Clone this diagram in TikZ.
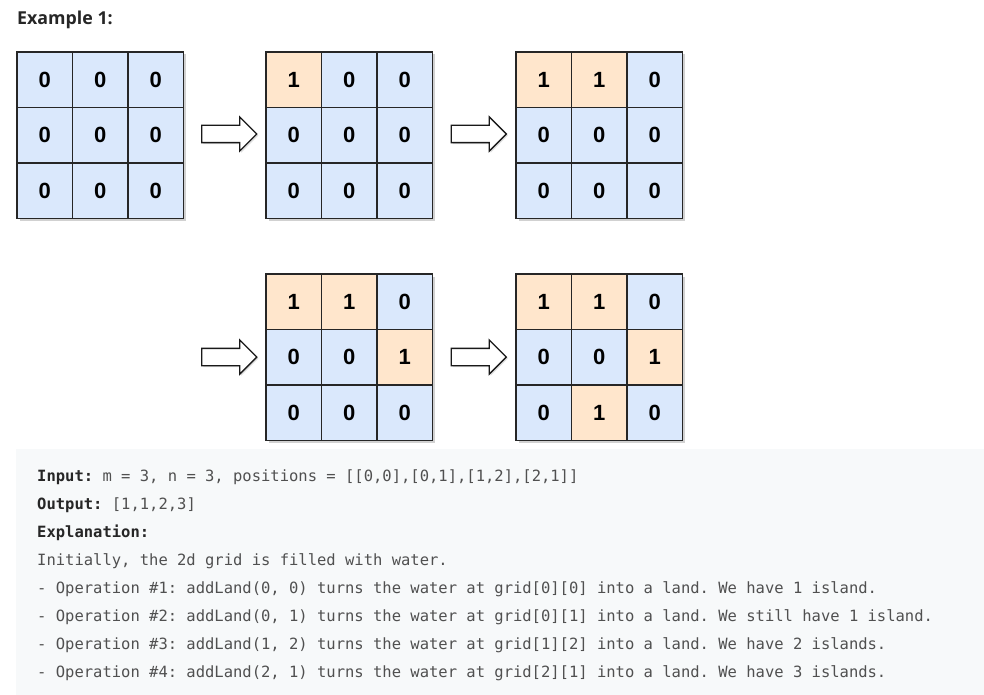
\documentclass[tikz,border=0pt]{standalone}
\usepackage{fontspec}
\setmainfont{Liberation Sans}
\newfontfamily\titlefont{Open Sans}
\newfontfamily\codefont{DejaVu Sans Mono}
\newfontfamily\digitfont{Liberation Sans Bold}
\usetikzlibrary{shapes.arrows,shadows}
\definecolor{water}{HTML}{DAE8FC}
\definecolor{land}{HTML}{FFE6CC}
\definecolor{codebg}{HTML}{F7F9FA}
\definecolor{txtdark}{HTML}{262626}
\definecolor{txtreg}{HTML}{505050}
\tikzset{
  cell/.style={draw=black!85, line width=1.2pt, minimum size=55.5pt, inner sep=0pt, text=black},
  v0/.style={fill=water},
  v1/.style={fill=land},
  gridshadow/.style={fill=black, opacity=0.18},
  blockarrow/.style={single arrow, draw=black!90, fill=white, line width=1.3pt,
    minimum height=55pt, inner sep=0pt, inner ysep=8pt,
    single arrow head extend=8.5pt, single arrow tip angle=90,
    drop shadow={shadow xshift=1.5pt, shadow yshift=-1.5pt, opacity=0.25}},
  codeline/.style={anchor=base west, inner sep=0pt, text=txtreg,
    font=\codefont\fontsize{15.5}{15.5}\selectfont},
}
\newcommand\gridat[4]{%
  \fill[gridshadow] (#2+2.5,#3+2.5) rectangle ++(166.5,166.5);
  \foreach \v [count=\i from 0] in {#4} {%
    \pgfmathtruncatemacro\rr{\i/3}%
    \pgfmathtruncatemacro\cc{mod(\i,3)}%
    \node[cell, v\v] (#1-\rr-\cc) at ({#2+\cc*55.5+27.75},{#3+\rr*55.5+27.75}) {\fontsize{22}{22}\selectfont\digitfont\v};
  }%
}
\begin{document}
\frenchspacing
\begin{tikzpicture}[x=1pt, y=-1pt]
\useasboundingbox (0,0) rectangle (984,695);
\fill[white] (0,0) rectangle (984,695);
% title
\node[anchor=base west, inner sep=0pt, text=txtdark,
  font=\titlefont\bfseries\fontsize{17.8}{17.8}\selectfont] (title) at (17,25) {Example 1:};
% grids
\gridat{g1}{17}{52}{0,0,0,0,0,0,0,0,0}
\gridat{g2}{266}{52}{1,0,0,0,0,0,0,0,0}
\gridat{g3}{516}{52}{1,1,0,0,0,0,0,0,0}
\gridat{g4}{266}{274}{1,1,0,0,0,1,0,0,0}
\gridat{g5}{516}{274}{1,1,0,0,0,1,0,1,0}
% arrows
\node[blockarrow] (a1) at (225,134) {};
\node[blockarrow] (a2) at (474.5,134) {};
\node[blockarrow] (a3) at (225,357) {};
\node[blockarrow] (a4) at (474.5,357) {};
% code block
\fill[codebg] (16,449) rectangle (984,695);
\node[codeline] (l1) at (37,481) {\textcolor{txtdark}{\bfseries Input:} m = 3, n = 3, positions = [[0,0],[0,1],[1,2],[2,1]]};
\node[codeline] (l2) at (37,509) {\textcolor{txtdark}{\bfseries Output:} [1,1,2,3]};
\node[codeline] (l3) at (37,537) {\textcolor{txtdark}{\bfseries Explanation:}};
\node[codeline] (l4) at (37,565) {Initially, the 2d grid is filled with water.};
\node[codeline] (l5) at (37,593) {- Operation \#1: addLand(0, 0) turns the water at grid[0][0] into a land. We have 1 island.};
\node[codeline] (l6) at (37,621) {- Operation \#2: addLand(0, 1) turns the water at grid[0][1] into a land. We still have 1 island.};
\node[codeline] (l7) at (37,649) {- Operation \#3: addLand(1, 2) turns the water at grid[1][2] into a land. We have 2 islands.};
\node[codeline] (l8) at (37,677) {- Operation \#4: addLand(2, 1) turns the water at grid[2][1] into a land. We have 3 islands.};
\end{tikzpicture}
\end{document}
